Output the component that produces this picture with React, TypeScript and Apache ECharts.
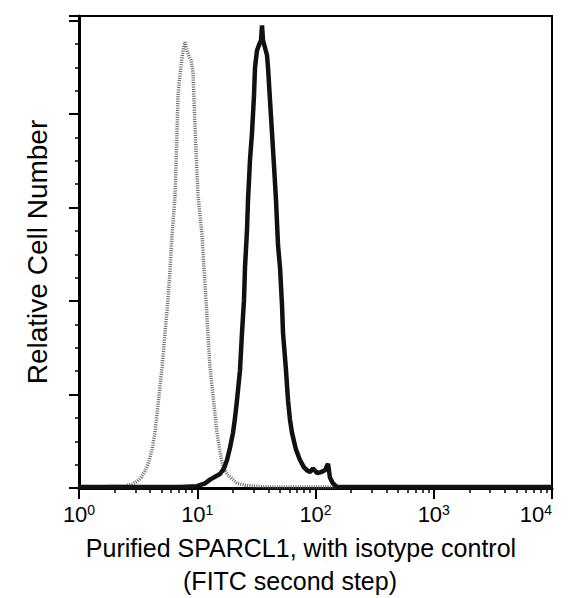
import React, { useEffect, useRef } from 'react';
import * as echarts from 'echarts';

// Isotype control histogram (grey, stippled)
const isoIntensity = [
  1.0, 1.505, 2.016, 2.449, 2.807, 3.094, 3.345, 3.615, 3.833, 4.143, 4.392, 4.658, 5.035, 5.338,
  5.655, 5.883, 6.116, 6.36, 6.484, 6.612, 6.742, 6.875, 7.147, 7.43, 7.725, 7.877, 8.19, 8.516,
  8.855, 9.207, 9.386, 9.759, 10.15, 10.55, 10.97, 11.4, 11.86, 12.33, 12.82, 13.59, 14.69, 15.57,
  16.51, 17.85, 19.67, 21.69, 25.34, 30.79, 41.23, 73.9, 195.7, 518, 1372, 3634, 10000,
];
const isoCount = [
  0.01, 0.01, 0.02, 0.02, 0.04, 0.07, 0.11, 0.18, 0.25, 0.41, 0.59, 0.89, 1.29, 1.66,
  2.01, 2.33, 2.71, 2.97, 3.13, 3.45, 3.8, 4.2, 4.42, 4.6, 4.73, 4.77, 4.68, 4.62,
  4.58, 4.45, 4.15, 3.61, 3.13, 2.92, 2.71, 2.35, 2.01, 1.64, 1.29, 0.99, 0.59, 0.39,
  0.22, 0.15, 0.1, 0.05, 0.03, 0.02, 0.01, 0.01, 0.01, 0.01, 0.01, 0.01, 0.01,
];

// Purified SPARCL1 histogram (black)
const sparclIntensity = [
  1.0, 3.985, 7.147, 9.95, 11.63, 12.82, 14.13, 15.57, 16.84, 17.85, 18.92, 20.06, 20.86, 21.69,
  22.99, 23.9, 24.85, 25.34, 26.35, 26.87, 27.93, 29.04, 30.2, 30.79, 32.01, 33.29, 34.61, 35.29,
  35.98, 37.41, 38.9, 39.66, 41.23, 42.87, 44.57, 46.34, 48.19, 50.1, 52.09, 53.12, 56.3, 58.54,
  60.86, 63.28, 68.41, 73.9, 79.93, 84.75, 89.84, 95.26, 103.0, 111.3, 120.3, 127.6, 132.6, 140.6,
  152.0, 177.6, 518, 1372, 3634, 10000,
];
const sparclCount = [
  0.01, 0.01, 0.01, 0.02, 0.05, 0.09, 0.12, 0.15, 0.21, 0.3, 0.43, 0.59, 0.75, 0.94,
  1.26, 1.66, 2.01, 2.36, 2.76, 3.08, 3.51, 3.8, 4.2, 4.5, 4.68, 4.74, 4.79, 4.95,
  4.79, 4.71, 4.63, 4.5, 4.15, 3.8, 3.45, 3.08, 2.6, 2.36, 1.96, 1.66, 1.26, 0.94,
  0.73, 0.59, 0.41, 0.3, 0.22, 0.19, 0.17, 0.21, 0.16, 0.17, 0.19, 0.26, 0.11, 0.05,
  0.01, 0.01, 0.01, 0.01, 0.01, 0.01,
];

const decades = [0, 1, 2, 3];
const minorMultipliers = [2, 3, 4, 5, 6, 7, 8, 9];

const FONT = "'Liberation Sans', Arial, Helvetica, sans-serif";

const App: React.FC = () => {
  const chartRef = useRef<HTMLDivElement>(null);

  useEffect(() => {
    document.body.style.margin = '0';
    if (!chartRef.current) return;
    const chart = echarts.init(chartRef.current, undefined, { renderer: 'svg' });

    const minorTicks: number[] = [];
    decades.forEach((d) => minorMultipliers.forEach((m) => minorTicks.push(d + Math.log10(m))));

    const option: echarts.EChartsOption = {
      animation: false,
      backgroundColor: '#fff',
      grid: {
        left: 79,
        right: 22,
        top: 16,
        bottom: 110,
        show: true,
        borderColor: '#000',
        borderWidth: 2,
      },
      xAxis: [
        {
          type: 'log',
          logBase: 10,
          min: 1,
          max: 10000,
          position: 'bottom',
          splitLine: { show: false },
          axisLine: { lineStyle: { color: '#000', width: 3 } },
          axisTick: { length: 11, lineStyle: { color: '#000', width: 2 } },
          axisLabel: {
            margin: 15,
            color: '#000',
            fontFamily: FONT,
            fontSize: 22,
            alignMaxLabel: 'right',
            formatter: (v: number) => `{b|10}{s|${Math.round(Math.log10(v))}}`,
            rich: {
              b: { fontSize: 22, fontFamily: FONT, color: '#000', lineHeight: 24, verticalAlign: 'top' },
              s: { fontSize: 14, fontFamily: FONT, color: '#000', lineHeight: 14, verticalAlign: 'top' },
            },
          },
        },
        {
          type: 'value',
          min: 0,
          max: 4,
          position: 'bottom',
          splitLine: { show: false },
          axisLine: { show: false },
          axisLabel: { show: false },
          axisTick: {
            show: true,
            length: 5,
            customValues: minorTicks,
            lineStyle: { color: '#000', width: 1.5 },
          },
        },
      ],
      yAxis: {
        type: 'value',
        min: 0,
        max: 5.05,
        interval: 1,
        name: 'Relative Cell Number',
        nameLocation: 'middle',
        nameGap: 28,
        nameTextStyle: { fontFamily: FONT, fontSize: 28, color: '#000' },
        splitLine: { show: false },
        axisLine: { lineStyle: { color: '#000', width: 3 } },
        axisTick: { length: 10, lineStyle: { color: '#000', width: 2 } },
        minorTick: { show: true, splitNumber: 4, length: 4, lineStyle: { color: '#000', width: 1.5 } },
        axisLabel: { show: false },
      },
      graphic: [
        {
          type: 'text',
          x: 301,
          y: 548,
          style: {
            text: 'Purified SPARCL1, with isotype control',
            fontFamily: FONT,
            fontSize: 25,
            fill: '#000',
            align: 'center',
            verticalAlign: 'middle',
          },
        },
        {
          type: 'text',
          x: 290,
          y: 581,
          style: {
            text: '(FITC second step)',
            fontFamily: FONT,
            fontSize: 25,
            fill: '#000',
            align: 'center',
            verticalAlign: 'middle',
          },
        },
      ],
      series: [
        {
          name: 'Isotype control',
          type: 'line',
          xAxisIndex: 0,
          showSymbol: false,
          z: 2,
          lineStyle: { color: '#666', width: 3.5, type: [1, 1.3] },
          data: isoIntensity.map((x, i) => [x, isoCount[i]]),
        },
        {
          name: 'Purified SPARCL1',
          type: 'line',
          xAxisIndex: 0,
          showSymbol: false,
          z: 3,
          lineStyle: { color: '#111', width: 4.5 },
          data: sparclIntensity.map((x, i) => [x, sparclCount[i]]),
        },
      ],
    };

    chart.setOption(option);

    return () => {
      chart.dispose();
    };
  }, []);

  return <div ref={chartRef} style={{ width: '574px', height: '598px' }} />;
};

export default App;
